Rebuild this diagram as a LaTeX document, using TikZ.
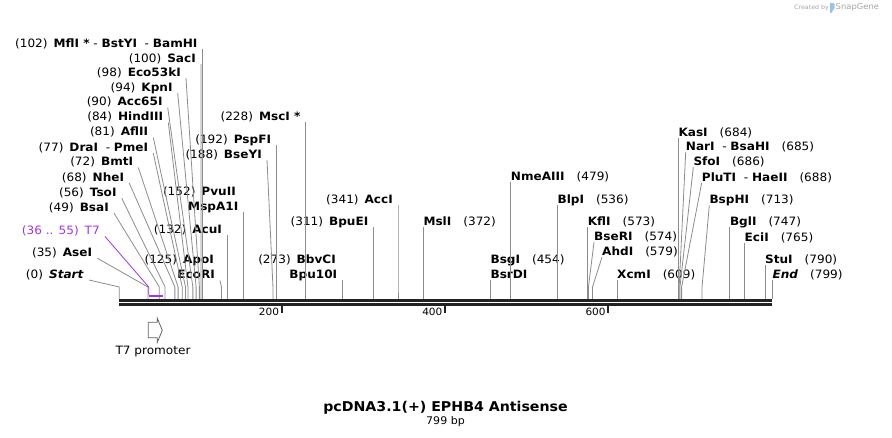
\documentclass[tikz,border=0pt]{standalone}
\usepackage{fontspec}
\setmainfont{DejaVu Sans}[FakeStretch=1.05]
\usepackage{xcolor}
\usepackage{tikz}
\usetikzlibrary{positioning,calc}

\definecolor{cutgray}{RGB}{140,140,140}
\definecolor{seqblack}{RGB}{34,34,34}
\definecolor{tsevenpurple}{RGB}{160,50,240}
\definecolor{promgray}{RGB}{100,100,100}
\definecolor{logogray}{RGB}{165,165,165}
\definecolor{logoblue}{RGB}{150,195,235}

% bp -> x position on the map
\newcommand{\bpx}[1]{119.3+0.8173*#1}
\newcommand{\lsp}{\hspace{6pt}}
\newcommand{\rsp}{\hspace{12pt}}

\tikzset{
  site/.style={font=\fontsize{11.5}{13}\selectfont, inner ysep=0pt, text height=8pt, text depth=1.5pt},
  lsite/.style={site, anchor=south east, inner xsep=5pt},
  rsite/.style={site, anchor=south west, inner xsep=0pt},
  cut/.style={draw=cutgray, line width=0.8pt},
}

\begin{document}
\begin{tikzpicture}[x=1pt,y=-1pt]
    \useasboundingbox (0,0) rectangle (892,438);

    % sequence
    \draw [seqblack, line width=2.7pt] (119.3,300.3) -- (772.3,300.3);
    \draw [seqblack, line width=2.7pt] (119.3,304.3) -- (772.3,304.3);
    \foreach \t/\tx in {200/281.7,400/445,600/608.3} {
        \draw [seqblack, line width=1.8pt] (\tx,304) -- (\tx,313);
        \node [site, font=\fontsize{10}{12}\selectfont, anchor=east, inner xsep=0pt] (tick\t) at (\tx-2.5,312) {\t};
    }

    % bend and sequence points of the sites
    \foreach \p in {0,35,36,49,56,68,72,77,81,84,90,94,98,100,102,125,132,152,188,192,228,273,311,341,372,454,479,536,573,574,579,609,684,685,686,688,713,747,765,790,799} {
        \coordinate (k\p) at ({\bpx{\p}},287);
        \coordinate (b\p) at ({\bpx{\p}},299);
    }

    % sites, left cluster
    \node [lsite] (bam) at ({\bpx{102}},49.2) {(102)\lsp\textbf{MflI *}\ -\ \textbf{BstYI}\ \ -\ \textbf{BamHI}};
    \node [lsite] (sac) at (201,63.8) {(100)\lsp\textbf{SacI}};
    \node [lsite] (eco53) at (186,78.2) {(98)\lsp\textbf{Eco53kI}};
    \node [lsite] (kpn) at (177.7,93.2) {(94)\lsp\textbf{KpnI}};
    \node [lsite] (acc65) at (167.7,107.5) {(90)\lsp\textbf{Acc65I}};
    \node [lsite] (hind) at (168.3,122.5) {(84)\lsp\textbf{HindIII}};
    \node [lsite] (afl) at (153.3,137.5) {(81)\lsp\textbf{AflII}};
    \node [lsite] (dra) at (153.3,153.2) {(77)\lsp\textbf{DraI}\ \ -\ \textbf{PmeI}};
    \node [lsite] (bmt) at (138.3,167.5) {(72)\lsp\textbf{BmtI}};
    \node [lsite] (nhe) at (129.3,183.2) {(68)\lsp\textbf{NheI}};
    \node [lsite] (tso) at (121.7,198.2) {(56)\lsp\textbf{TsoI}};
    \node [lsite] (bsa) at (114,213.2) {(49)\lsp\textbf{BsaI}};
    \node [lsite, text=tsevenpurple] (tseven) at (105,236.5) {(36 .. 55)\lsp T7};
    \node [lsite] (ase) at (97.3,258.2) {(35)\lsp\textbf{AseI}};
    \node [lsite] (start) at (89,280) {(0)\lsp\textbf{\textit{Start}}};

    \node [lsite] (pspf) at ({\bpx{192}},145.5) {(192)\lsp\textbf{PspFI}};
    \node [lsite] (bsey) at (267,159.8) {(188)\lsp\textbf{BseYI}};
    \node [lsite] (pvu) at (241,197.2) {(152)\lsp\textbf{PvuII}};
    \node [lsite] (mspa) at ({\bpx{152}},212.2) {\textbf{MspA1I}};
    \node [lsite] (acu) at ({\bpx{132}},235.5) {(132)\lsp\textbf{AcuI}};
    \node [lsite] (apo) at (219,264.8) {(125)\lsp\textbf{ApoI}};
    \node [lsite] (ecor) at (220,280.5) {\textbf{EcoRI}};

    % sites, middle
    \node [lsite] (msc) at ({\bpx{228}},122.2) {(228)\lsp\textbf{MscI *}};
    \node [lsite] (bbvc) at (341,264.8) {(273)\lsp\textbf{BbvCI}};
    \node [lsite] (bputen) at ({\bpx{273}},280.5) {\textbf{Bpu10I}};
    \node [lsite] (bpue) at ({\bpx{311}},227.5) {(311)\lsp\textbf{BpuEI}};
    \node [lsite] (acci) at ({\bpx{341}},205.5) {(341)\lsp\textbf{AccI}};
    \node [rsite] (msl) at ({\bpx{372}},227.5) {\textbf{MslI}\rsp(372)};
    \node [rsite] (nme) at ({\bpx{479}},182.2) {\textbf{NmeAIII}\rsp(479)};
    \node [rsite] (blp) at ({\bpx{536}},205.5) {\textbf{BlpI}\rsp(536)};
    \node [rsite] (bsg) at ({\bpx{454}},264.8) {\textbf{BsgI}\rsp(454)};
    \node [rsite] (bsrd) at ({\bpx{454}},280.5) {\textbf{BsrDI}};

    % sites, right cluster
    \node [rsite] (kfl) at ({\bpx{573}},227.5) {\textbf{KflI}\rsp(573)};
    \node [rsite] (bser) at (594,242.2) {\textbf{BseRI}\rsp(574)};
    \node [rsite] (ahd) at (602,257.2) {\textbf{AhdI}\rsp(579)};
    \node [rsite] (xcm) at ({\bpx{609}},279.8) {\textbf{XcmI}\rsp(609)};
    \node [rsite] (kas) at ({\bpx{684}},137.8) {\textbf{KasI}\rsp(684)};
    \node [rsite] (nar) at (685.7,152.2) {\textbf{NarI}\ \ -\ \textbf{BsaHI}\rsp(685)};
    \node [rsite] (sfo) at (693.3,167.2) {\textbf{SfoI}\rsp(686)};
    \node [rsite] (plut) at (701.7,182.8) {\textbf{PluTI}\ \ -\ \textbf{HaeII}\rsp(688)};
    \node [rsite] (bsph) at (709.3,205.5) {\textbf{BspHI}\rsp(713)};
    \node [rsite] (bgl) at ({\bpx{747}},227.2) {\textbf{BglI}\rsp(747)};
    \node [rsite] (eci) at ({\bpx{765}},242.8) {\textbf{EciI}\rsp(765)};
    \node [rsite] (stu) at ({\bpx{790}},265.5) {\textbf{StuI}\rsp(790)};
    \node [rsite] (endlbl) at ({\bpx{799}},280.5) {\textbf{\textit{End}}\rsp(799)};

    % cut lines
    \foreach \n/\p in {bam/102,sac/100,eco53/98,kpn/94,acc65/90,hind/84,afl/81,dra/77,bmt/72,nhe/68,tso/56,bsa/49,ase/35,start/0,pspf/192,bsey/188,mspa/152,acu/132,ecor/125,msc/228,bputen/273,bpue/311,acci/341}
        \draw [cut] (\n.south east) -- (k\p) -- (b\p);
    \foreach \n/\p in {msl/372,nme/479,blp/536,bsrd/454,kfl/573,bser/574,ahd/579,xcm/609,kas/684,nar/685,sfo/686,plut/688,bsph/713,bgl/747,eci/765,stu/790,endlbl/799}
        \draw [cut] (\n.south west) -- (k\p) -- (b\p);

    % T7 feature
    \draw [tsevenpurple, line width=0.8pt] (tseven.south east) -- (k36) -- ++(0,8);
    \draw [tsevenpurple, line width=1.8pt] ({\bpx{36}},295.7) -- ({\bpx{54}},295.7);

    % T7 promoter
    \draw [promgray, line width=0.8pt] (148.3,322.3) -- (157.3,322.3) -- (157.3,318.3) -- (162.3,330.3) -- (157.3,342.3) -- (157.3,337.7) -- (148.3,337.7) -- cycle;
    \node [site] (prom) at (153,351.7) {T7 promoter};

    % title
    \node [font=\bfseries\fontsize{13.5}{16}\selectfont] (title) at (445.5,407.3) {pcDNA3.1(+) EPHB4 Antisense};
    \node [font=\fontsize{10.5}{12}\selectfont] (size) at (445.5,421.7) {799 bp};

    % logo
    \node [font=\fontsize{6}{7}\selectfont, text=logogray, anchor=west, inner sep=0pt] (created) at (794,7.5) {Created by};
    \fill [logoblue, rounded corners=0.8pt] (830,2.5) -- (834.5,3.5) -- (834.5,9) -- (832.3,10.3) -- (832.3,13) -- (830,13) -- cycle;
    \node [font=\fontsize{8}{9}\selectfont, text=logogray, anchor=west, inner sep=0pt] (snapgene) at (835.5,7.5) {SnapGene};
\end{tikzpicture}
\end{document}
